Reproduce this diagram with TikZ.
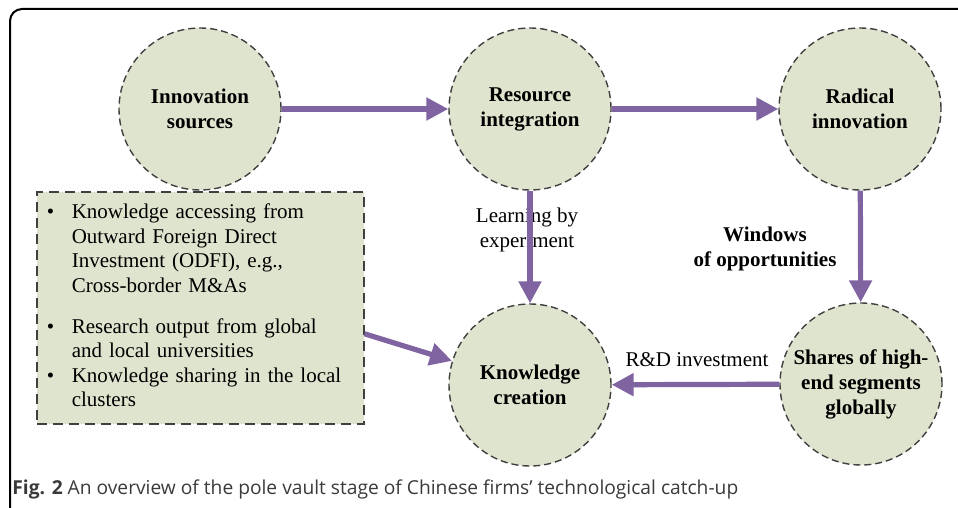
\documentclass[tikz,border=0pt]{standalone}
\usepackage{fontspec}
\setmainfont{Liberation Serif}
\newfontfamily\captionfont{Open Sans}
\usetikzlibrary{arrows.meta,positioning}
\definecolor{stagefill}{HTML}{DFE4CE}
\definecolor{flowpurple}{HTML}{8064A2}
\definecolor{edgegray}{HTML}{404040}
\definecolor{captiongray}{HTML}{3A3A3A}

\begin{document}
\begin{tikzpicture}[x=0.5pt, y=-0.5pt,
        stage/.style={draw=edgegray, line width=0.7pt, dash pattern=on 3.5pt off 2pt, fill=stagefill, circle, minimum size=81pt, inner sep=0pt, align=center, font=\bfseries\fontsize{10.5}{12.5}\selectfont},
        listbox/.style={draw=edgegray, line width=0.8pt, dash pattern=on 5pt off 3pt, fill=stagefill, rectangle, minimum width=163.5pt, minimum height=116pt, text width=153.5pt, inner xsep=5pt, font=\fontsize{10.5}{12.3}\selectfont},
        note/.style={align=center, inner sep=1pt, font=\fontsize{10.5}{12.3}\selectfont},
        flow/.style={draw=flowpurple, line width=2.6pt, -{Triangle[length=11pt, width=11pt]}}]
        \useasboundingbox (0,0) rectangle (958,508);
        \clip (0,0) rectangle (958,508);
        \draw[line width=1pt, rounded corners=6pt] (10,9) rectangle (1000,560);

        \node [stage] (innov) at (200,109) {Innovation\\sources};
        \node [stage] (resource) at (530,109) {Resource\\integration};
        \node [stage] (radical) at (860,109) {Radical\\innovation};
        \node [stage] (knowledge) at (530,385) {Knowledge\\creation};
        \node [stage] (shares) at (861,384) {Shares of high-\\end segments\\globally};

        \node [listbox, anchor=north west] (sources) at (36,191) {%
            \begin{tabular}{@{}p{12.5pt}@{}l@{}}
                \textbullet & Knowledge accessing from\\
                & Outward Foreign Direct\\
                & Investment (ODFI), e.g.,\\
                & Cross-border M\&As\\[8pt]
                \textbullet & Research output from global\\
                & and local universities\\
                \textbullet & Knowledge sharing in the local\\
                & clusters
            \end{tabular}};

        \node [note] (learning) at (527,230) {Learning by\\experiment};
        \node [note, font=\bfseries\fontsize{10.5}{12.5}\selectfont] (windows) at (765,249) {Windows\\of opportunities};
        \node [note] (rd) at (697,360) {R\&D investment};

        \draw[flow] (innov) -- (resource);
        \draw[flow] (resource) -- (radical);
        \draw[flow] (resource) -- (knowledge);
        \draw[flow] (radical) -- (shares);
        \draw[flow] (shares) -- (knowledge);
        \draw[flow] ([yshift=-13pt]sources.east) -- (knowledge);

        \node [anchor=west, inner sep=0pt, text=captiongray, font=\captionfont\fontsize{9.6}{11}\selectfont] (caption) at (12,489) {\textbf{Fig. 2} An overview of the pole vault stage of Chinese firms’ technological catch-up};
    \end{tikzpicture}
\end{document}
